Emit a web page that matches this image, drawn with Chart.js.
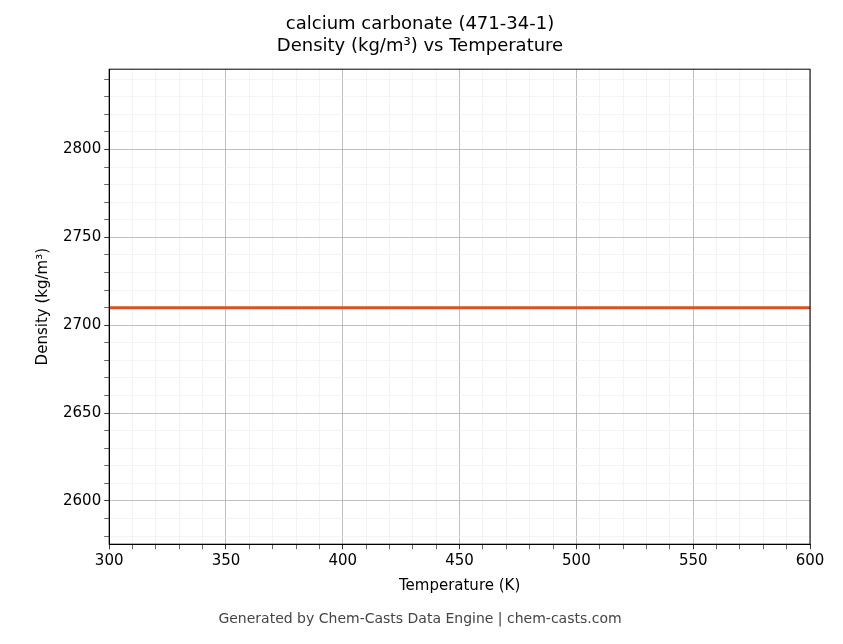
<!DOCTYPE html>
<html><head><meta charset="utf-8">
<script src="https://cdn.jsdelivr.net/npm/chart.js@4"></script>
<style>html,body{margin:0;padding:0;background:#fff}#w{width:843px;height:644px}</style>
</head><body><div id="w"><canvas id="c"></canvas></div>
<script>
const temperatures = [300, 350, 400, 450, 500, 550, 600];
const densities = [2710, 2710, 2710, 2710, 2710, 2710, 2710];
const xMajor = [300, 350, 400, 450, 500, 550, 600];
const yMajor = [2600, 2650, 2700, 2750, 2800];
const F = 'DejaVu Sans';
function minorTicks(min, max, step){const t=[];for(let v=Math.ceil(min/step)*step;v<=max+1e-9;v+=step)t.push({value:v});return t;}
function isMajor(v,list){return list.some(m=>Math.abs(m-v)<1e-6);}
new Chart(document.getElementById('c'), {
  type: 'line',
  data: { datasets: [{ data: temperatures.map((t,i)=>({x:t,y:densities[i]})), borderColor:'#d9531e', borderWidth:3, pointRadius:0, tension:0 }] },
  options: {
    responsive:true, maintainAspectRatio:false, animation:false,
    layout:{padding:{left:30,right:33,top:0,bottom:0}},
    plugins:{
      legend:{display:false}, tooltip:{enabled:false},
      title:{display:true,text:['calcium carbonate (471-34-1)','Density (kg/m³) vs Temperature'],color:'#000',font:{family:F,size:18,weight:'normal'},padding:{top:14,bottom:12},lineHeight:1.2},
      subtitle:{display:true,position:'bottom',text:'Generated by Chem-Casts Data Engine | chem-casts.com',color:'#444',font:{family:F,size:14},padding:{top:12,bottom:16}}
    },
    scales:{
      x:{type:'linear',min:300,max:600,
        afterBuildTicks:a=>{a.ticks=minorTicks(300,600,10);},
        ticks:{autoSkip:false,maxRotation:0,color:'#000',font:{family:F,size:15},callback:v=>isMajor(v,xMajor)?String(v):''},
        grid:{color:c=>isMajor(c.tick.value,xMajor)?'#b0b0b0':'#ececec',lineWidth:c=>isMajor(c.tick.value,xMajor)?0.8:0.6,tickColor:'#000',tickLength:5},
        border:{color:'#000',width:1},
        title:{display:true,text:'Temperature (K)',color:'#000',font:{family:F,size:15},padding:{top:4}}},
      y:{type:'linear',min:2575.4,max:2845.7,
        afterBuildTicks:a=>{a.ticks=minorTicks(2575.4,2845.7,10);},
        ticks:{autoSkip:false,color:'#000',font:{family:F,size:15},callback:v=>isMajor(v,yMajor)?String(v):''},
        grid:{color:c=>isMajor(c.tick.value,yMajor)?'#b0b0b0':'#ececec',lineWidth:c=>isMajor(c.tick.value,yMajor)?0.8:0.6,tickColor:'#000',tickLength:5},
        border:{color:'#000',width:1},
        title:{display:true,text:'Density (kg/m³)',color:'#000',font:{family:F,size:15},padding:{bottom:8}}}
    }
  },
  plugins:[{id:'frame',afterDraw(ch){const a=ch.chartArea,x=ch.ctx;x.save();x.strokeStyle='#000';x.lineWidth=1;x.strokeRect(a.left,a.top,a.right-a.left,a.bottom-a.top);x.restore();}}]
});
</script></body></html>
